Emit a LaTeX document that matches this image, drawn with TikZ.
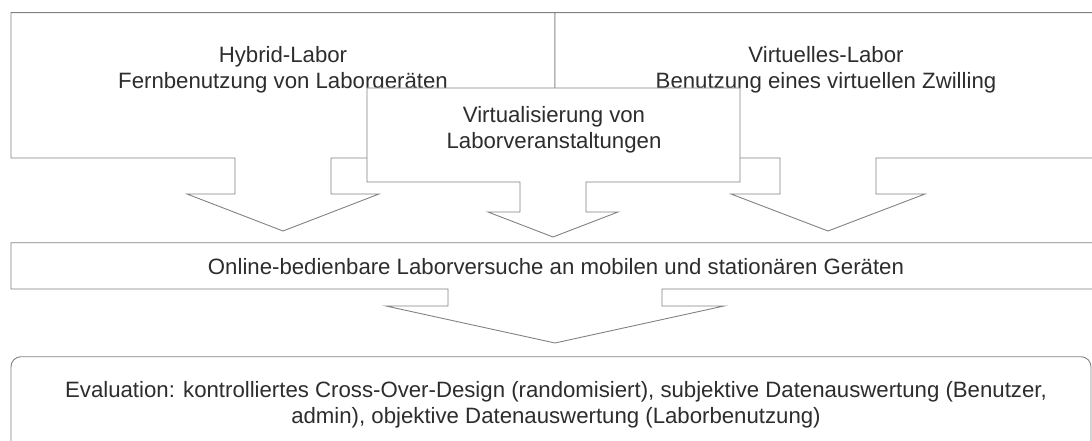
\documentclass[tikz,border=0pt]{standalone}
\usepackage{fontspec}
\setmainfont{Liberation Sans}
\definecolor{linegray}{RGB}{130,130,130}
\definecolor{textgray}{RGB}{45,45,45}
\begin{document}
\begin{tikzpicture}[x=1pt,y=-1pt,
  shapeline/.style={draw=linegray,line width=0.9pt,fill=white,line join=miter},
  lbl/.style={font=\fontsize{22.2}{26}\selectfont,text=textgray,align=center,inner sep=0pt}]
\useasboundingbox (0,0) rectangle (1092,441);
\begin{scope}
\clip (0,0) rectangle (1092,441);
% left top box with arrow
\draw[shapeline] (11,12.7) -- (555,12.7) -- (555,158) -- (331,158) -- (331,194) -- (379,194)
  -- (283,231) -- (187,194) -- (235,194) -- (235,158) -- (11,158) -- cycle;
% right top box with arrow
\draw[shapeline] (555,12.7) -- (1099,12.7) -- (1099,158) -- (876,158) -- (876,194) -- (925,194)
  -- (828,231) -- (731,194) -- (780,194) -- (780,158) -- (555,158) -- cycle;
\node[lbl] (hybrid) at (283,69.8) {Hybrid-Labor\\Fernbenutzung von Laborgeräten};
\node[lbl] (virtlab) at (826,69.8) {Virtuelles-Labor\\Benutzung eines virtuellen Zwilling};
% middle box with arrow (drawn over the top labels)
\draw[shapeline] (367,88) -- (740,88) -- (740,182) -- (586,182) -- (586,212) -- (618,212)
  -- (553,237) -- (488,212) -- (520,212) -- (520,182) -- (367,182) -- cycle;
% band with arrow
\draw[shapeline] (11,242.7) -- (1099,242.7) -- (1099,289) -- (662,289) -- (662,306) -- (724,306)
  -- (555,343) -- (386,306) -- (448,306) -- (448,289) -- (11,289) -- cycle;
% evaluation box
\draw[shapeline,rounded corners=10pt] (11,356.7) rectangle (1091,470);
\end{scope}
\node[lbl] (virtual) at (554,130) {Virtualisierung von\\Laborveranstaltungen};
\node[lbl,anchor=base] (online) at (556,274) {Online-bedienbare Laborversuche an mobilen und stationären Geräten};
\node[lbl] (eval) at (556,404.5) {Evaluation: kontrolliertes Cross-Over-Design (randomisiert), subjektive Datenauswertung (Benutzer,\\admin), objektive Datenauswertung (Laborbenutzung)};
\end{tikzpicture}
\end{document}
